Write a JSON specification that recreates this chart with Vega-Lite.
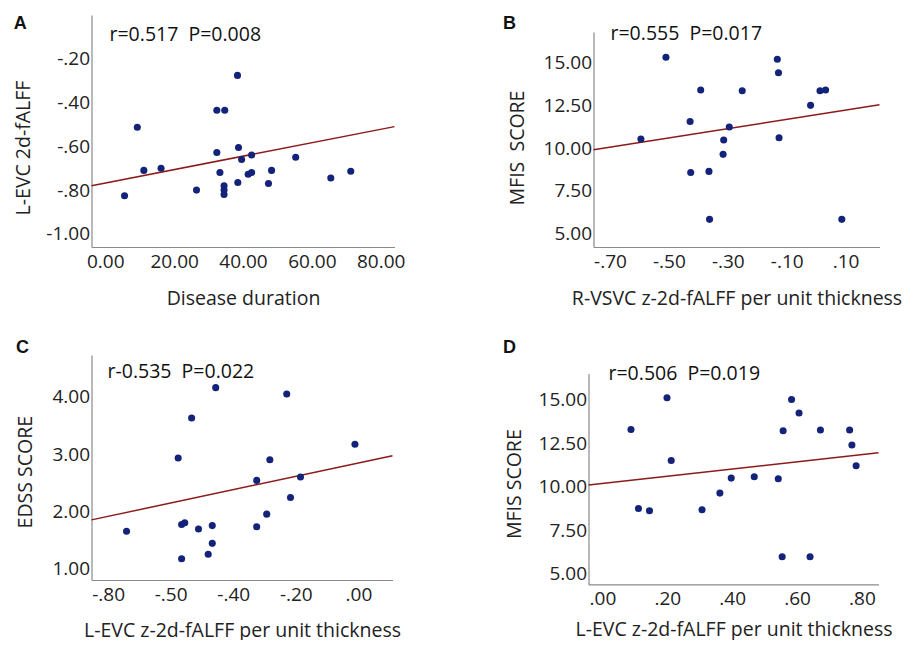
{
"$schema": "https://vega.github.io/schema/vega-lite/v6.json",
"background": "white",
"padding": {"left": 13.5, "top": 15, "right": 0, "bottom": 0},
"config": {
  "view": {"stroke": null},
  "axis": {"domainColor": "#8a8a8a", "domainWidth": 1.2, "ticks": false, "grid": false, "labelFont": "Open Sans", "labelFontSize": 19, "labelColor": "#222", "labelFlush": false, "labelOverlap": false, "titleFont": "Open Sans", "titleFontSize": 19.5, "titleFontWeight": "normal", "titleColor": "#222"},
  "axisX": {"labelPadding": 5, "titlePadding": 18},
  "axisY": {"labelPadding": 2, "titlePadding": 10}
},
"datasets": {
  "ptsA": [
    {"x": 5.6, "y": -0.826}, {"x": 9.3, "y": -0.513}, {"x": 11.2, "y": -0.71}, {"x": 16.2, "y": -0.70},
    {"x": 26.5, "y": -0.80}, {"x": 32.4, "y": -0.435}, {"x": 34.7, "y": -0.435}, {"x": 32.4, "y": -0.628},
    {"x": 33.3, "y": -0.72}, {"x": 34.5, "y": -0.78}, {"x": 34.5, "y": -0.80}, {"x": 34.5, "y": -0.82},
    {"x": 38.4, "y": -0.276}, {"x": 38.7, "y": -0.605}, {"x": 38.5, "y": -0.765}, {"x": 39.6, "y": -0.66},
    {"x": 41.5, "y": -0.728}, {"x": 42.5, "y": -0.72}, {"x": 42.5, "y": -0.64}, {"x": 47.4, "y": -0.77},
    {"x": 48.3, "y": -0.71}, {"x": 55.3, "y": -0.65}, {"x": 65.5, "y": -0.745}, {"x": 71.3, "y": -0.714}
  ],
  "lineA": [{"x": -4, "y": -0.78}, {"x": 84, "y": -0.51}],
  "ptsB": [
    {"x": -0.595, "y": 10.53}, {"x": -0.51, "y": 15.32}, {"x": -0.428, "y": 11.56}, {"x": -0.426, "y": 8.57},
    {"x": -0.392, "y": 13.4}, {"x": -0.364, "y": 8.63}, {"x": -0.362, "y": 5.82}, {"x": -0.316, "y": 9.63},
    {"x": -0.314, "y": 10.47}, {"x": -0.295, "y": 11.23}, {"x": -0.251, "y": 13.36}, {"x": -0.132, "y": 15.2},
    {"x": -0.128, "y": 14.41}, {"x": -0.126, "y": 10.6}, {"x": -0.019, "y": 12.5}, {"x": 0.013, "y": 13.36},
    {"x": 0.032, "y": 13.4}, {"x": 0.087, "y": 5.82}
  ],
  "lineB": [{"x": -0.756, "y": 9.9}, {"x": 0.215, "y": 12.53}],
  "ptsC": [
    {"x": -0.741, "y": 1.65}, {"x": -0.576, "y": 2.93}, {"x": -0.565, "y": 1.17}, {"x": -0.565, "y": 1.77},
    {"x": -0.555, "y": 1.80}, {"x": -0.533, "y": 3.63}, {"x": -0.511, "y": 1.69}, {"x": -0.48, "y": 1.25},
    {"x": -0.467, "y": 1.75}, {"x": -0.467, "y": 1.44}, {"x": -0.456, "y": 4.16}, {"x": -0.325, "y": 2.54},
    {"x": -0.325, "y": 1.73}, {"x": -0.293, "y": 1.95}, {"x": -0.283, "y": 2.90}, {"x": -0.229, "y": 4.05},
    {"x": -0.217, "y": 2.24}, {"x": -0.185, "y": 2.60}, {"x": -0.011, "y": 3.17}
  ],
  "lineC": [{"x": -0.853, "y": 1.85}, {"x": 0.109, "y": 2.97}],
  "ptsD": [
    {"x": 0.088, "y": 13.28}, {"x": 0.111, "y": 8.75}, {"x": 0.145, "y": 8.62}, {"x": 0.199, "y": 15.1},
    {"x": 0.212, "y": 11.5}, {"x": 0.307, "y": 8.67}, {"x": 0.362, "y": 9.63}, {"x": 0.397, "y": 10.49},
    {"x": 0.468, "y": 10.57}, {"x": 0.542, "y": 10.45}, {"x": 0.554, "y": 5.98}, {"x": 0.557, "y": 13.21},
    {"x": 0.583, "y": 15.0}, {"x": 0.606, "y": 14.23}, {"x": 0.64, "y": 5.98}, {"x": 0.672, "y": 13.25},
    {"x": 0.762, "y": 13.25}, {"x": 0.769, "y": 12.39}, {"x": 0.782, "y": 11.2}
  ],
  "lineD": [{"x": -0.043, "y": 10.09}, {"x": 0.851, "y": 11.95}]
},
"vconcat": [
  {"spacing": 97, "hconcat": [
    {"title": {"text": "A", "anchor": "start", "frame": "bounds", "font": "Liberation Sans", "fontSize": 18, "fontWeight": "bold", "color": "#111", "baseline": "alphabetic", "offset": -32.2},
     "vconcat": [{
      "width": 303, "height": 232,
      "title": {"text": "r=0.517\u00a0 P=0.008", "anchor": "start", "frame": "group", "font": "Open Sans", "fontSize": 19.5, "fontWeight": "normal", "color": "#111", "baseline": "alphabetic", "offset": -45.5, "dx": 18},
      "layer": [
        {"data": {"name": "lineA"}, "mark": {"type": "line", "color": "#8b1a1a", "strokeWidth": 1.5},
         "encoding": {
          "x": {"field": "x", "type": "quantitative", "scale": {"domain": [-4, 84], "nice": false, "zero": false}, "axis": {"values": [0, 20, 40, 60, 80], "format": ".2f", "title": "Disease duration"}},
          "y": {"field": "y", "type": "quantitative", "scale": {"domain": [-1.06, 0], "nice": false, "zero": false}, "axis": {"values": [-1, -0.8, -0.6, -0.4, -0.2], "labelExpr": "(datum.value < 0 ? '-' : '') + replace(format(abs(datum.value),'.2f'),'0.','.')", "title": "L-EVC 2d-fALFF", "titlePadding": 12, "titleY": 132.5}}
         }},
        {"data": {"name": "ptsA"}, "mark": {"type": "circle", "size": 50, "color": "#14237a", "opacity": 1},
         "encoding": {"x": {"field": "x", "type": "quantitative"}, "y": {"field": "y", "type": "quantitative"}}}
      ]
     }]
    },
    {"title": {"text": "B", "anchor": "start", "frame": "bounds", "font": "Liberation Sans", "fontSize": 18, "fontWeight": "bold", "color": "#111", "baseline": "alphabetic", "offset": -32.2, "dx": -4},
     "vconcat": [{
      "width": 286, "height": 232,
      "title": {"text": "r=0.555\u00a0 P=0.017", "anchor": "start", "frame": "group", "font": "Open Sans", "fontSize": 19.5, "fontWeight": "normal", "color": "#111", "baseline": "alphabetic", "offset": -44.5, "dx": 17},
      "layer": [
        {"data": {"name": "lineB"}, "mark": {"type": "line", "color": "#8b1a1a", "strokeWidth": 1.5},
         "encoding": {
          "x": {"field": "x", "type": "quantitative", "scale": {"domain": [-0.756, 0.215], "nice": false, "zero": false}, "axis": {"values": [-0.7, -0.5, -0.3, -0.1, 0.1], "labelExpr": "(datum.value < 0 ? '-' : '') + replace(format(abs(datum.value),'.2f'),'0.','.')", "title": "R-VSVC z-2d-fALFF per unit thickness"}},
          "y": {"field": "y", "type": "quantitative", "scale": {"domain": [4.2, 16.8], "range": [232, 17], "nice": false, "zero": false}, "axis": {"values": [5, 7.5, 10, 12.5, 15], "format": ".2f", "title": "MFIS\u00a0 SCORE", "titlePadding": 16, "titleY": 132.5}}
         }},
        {"data": {"name": "ptsB"}, "mark": {"type": "circle", "size": 50, "color": "#14237a", "opacity": 1},
         "encoding": {"x": {"field": "x", "type": "quantitative"}, "y": {"field": "y", "type": "quantitative"}}}
      ]
     }]
    }
  ]},
  {"spacing": 102, "hconcat": [
    {"title": {"text": "C", "anchor": "start", "frame": "bounds", "font": "Liberation Sans", "fontSize": 18, "fontWeight": "bold", "color": "#111", "baseline": "alphabetic", "offset": -15.6},
     "vconcat": [{
      "width": 301, "height": 225,
      "title": {"text": "r-0.535\u00a0 P=0.022", "anchor": "start", "frame": "group", "font": "Open Sans", "fontSize": 19.5, "fontWeight": "normal", "color": "#111", "baseline": "alphabetic", "offset": -42.2, "dx": 16},
      "layer": [
        {"data": {"name": "lineC"}, "mark": {"type": "line", "color": "#8b1a1a", "strokeWidth": 1.5},
         "encoding": {
          "x": {"field": "x", "type": "quantitative", "scale": {"domain": [-0.853, 0.109], "nice": false, "zero": false}, "axis": {"values": [-0.8, -0.6, -0.4, -0.2, 0], "labelExpr": "abs(datum.value + 0.6) < 0.001 ? '-.50' : (datum.value < 0 ? '-' : '') + replace(format(abs(datum.value),'.2f'),'0.','.')", "title": "L-EVC z-2d-fALFF per unit thickness", "titlePadding": 17}},
          "y": {"field": "y", "type": "quantitative", "scale": {"domain": [0.8, 4.73], "nice": false, "zero": false}, "axis": {"values": [1, 2, 3, 4], "format": ".2f", "title": "EDSS SCORE", "titlePadding": 16, "titleY": 116.7}}
         }},
        {"data": {"name": "ptsC"}, "mark": {"type": "circle", "size": 50, "color": "#14237a", "opacity": 1},
         "encoding": {"x": {"field": "x", "type": "quantitative"}, "y": {"field": "y", "type": "quantitative"}}}
      ]
     }]
    },
    {"title": {"text": "D", "anchor": "start", "frame": "bounds", "font": "Liberation Sans", "fontSize": 18, "fontWeight": "bold", "color": "#111", "baseline": "alphabetic", "offset": -16.2, "dx": -1},
     "vconcat": [{
      "width": 290, "height": 229.4,
      "title": {"text": "r=0.506\u00a0 P=0.019", "anchor": "start", "frame": "group", "font": "Open Sans", "fontSize": 19.5, "fontWeight": "normal", "color": "#111", "baseline": "alphabetic", "offset": -44.5, "dx": 20},
      "layer": [
        {"data": {"name": "lineD"}, "mark": {"type": "line", "color": "#8b1a1a", "strokeWidth": 1.5},
         "encoding": {
          "x": {"field": "x", "type": "quantitative", "scale": {"domain": [-0.043, 0.851], "nice": false, "zero": false}, "axis": {"values": [0, 0.2, 0.4, 0.6, 0.8], "labelExpr": "(datum.value < 0 ? '-' : '') + replace(format(abs(datum.value),'.2f'),'0.','.')", "title": "L-EVC z-2d-fALFF per unit thickness", "titlePadding": 12}},
          "y": {"field": "y", "type": "quantitative", "scale": {"domain": [4.39, 16.5], "range": [229.4, 18.4], "nice": false, "zero": false}, "axis": {"values": [5, 7.5, 10, 12.5, 15], "format": ".2f", "title": "MFIS SCORE", "titlePadding": 14, "titleY": 128.7}}
         }},
        {"data": {"name": "ptsD"}, "mark": {"type": "circle", "size": 50, "color": "#14237a", "opacity": 1},
         "encoding": {"x": {"field": "x", "type": "quantitative"}, "y": {"field": "y", "type": "quantitative"}}}
      ]
     }]
    }
  ]}
],
"spacing": 30
}
